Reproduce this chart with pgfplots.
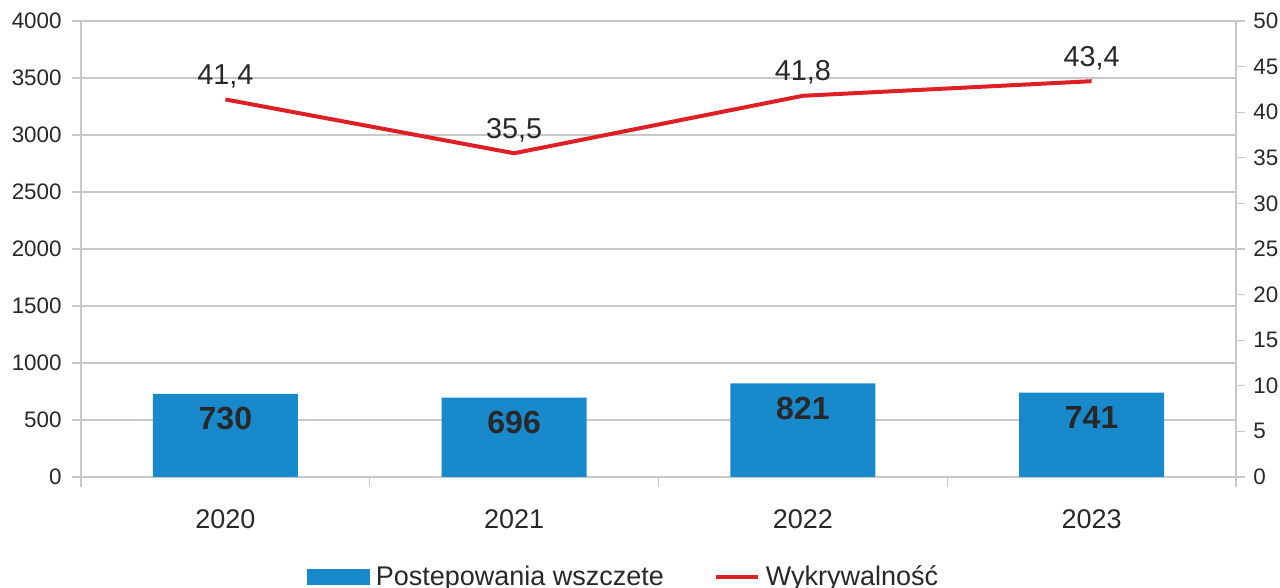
\documentclass[border=0pt]{standalone}
\usepackage{pgfplots}
\pgfplotsset{compat=1.18}
\usepackage{fontspec}
\setmainfont{Liberation Sans}
\definecolor{barblue}{RGB}{24,138,204}
\definecolor{linered}{RGB}{222,32,38}
\definecolor{gridgray}{RGB}{200,200,200}
\definecolor{txt}{RGB}{40,40,40}
\begin{document}
\begin{tikzpicture}
\pgfplotsset{
 common/.style={
  scale only axis, width=577.5pt, height=228pt,
  xmin=-0.5, xmax=3.5,
  /pgf/number format/assume math mode=true,
  /pgf/number format/1000 sep={},
  tick style={gridgray, line width=0.6pt},
  axis line style={gridgray, line width=0.6pt},
  major tick length=4.5pt,
  minor tick length=5pt,
  tick align=outside,
  yticklabel style={font=\fontsize{11.2}{12}\selectfont, color=txt, inner sep=0pt},
 }
}
\begin{axis}[common,
  ymin=0, ymax=4000, ytick={0,500,...,4000},
  axis y line*=left, axis x line*=bottom,
  ymajorgrids, grid style={gridgray, line width=0.6pt},
  xtick={0,1,2,3}, xticklabels={2020,2021,2022,2023},
  major x tick style={draw=none},
  minor xtick={-0.5,0.5,1.5,2.5,3.5},
  xticklabel style={font=\fontsize{13.5}{14}\selectfont, color=txt, inner sep=0pt, anchor=north, yshift=-11.5pt},
  yticklabel style={xshift=-5pt},
]
\addplot[ybar, bar width=72.5pt, fill=barblue, draw=none,
  nodes near coords,
  nodes near coords style={font=\fontsize{16}{16}\selectfont\bfseries, color=txt, anchor=center, yshift=-12.5pt}]
  coordinates {(0,730) (1,696) (2,821) (3,741)};
\end{axis}
\begin{axis}[common,
  ymin=0, ymax=50, ytick={0,5,...,50},
  axis y line*=right, axis x line=none,
  yticklabel style={anchor=west, xshift=4pt},
  legend columns=2,
  legend style={at={(0.4715,-0.219)}, anchor=center, draw=none, fill=none,
    font=\fontsize{13.5}{14}\selectfont, text=txt,
    /tikz/every even column/.append style={column sep=22pt},
    nodes={inner sep=3pt}},
]
\addlegendimage{legend image code/.code={\fill[barblue] (0pt,-3.75pt) rectangle (31pt,3.75pt);}}
\addlegendentry{Postepowania wszczete}
\addplot[linered, line width=2pt, mark=none,
  legend image code/.code={\draw[linered, line width=2pt] (0pt,0pt) -- (21pt,0pt);},
  nodes near coords={\pgfmathprintnumber[fixed, fixed zerofill, precision=1, use comma]{\pgfplotspointmeta}},
  nodes near coords style={font=\fontsize{14.4}{15}\selectfont, color=txt, anchor=center, yshift=11.5pt}]
  coordinates {(0,41.4) (1,35.5) (2,41.8) (3,43.4)};
\addlegendentry{Wykrywalność}
\end{axis}
\pgfresetboundingbox
\path ([shift={(-40.5pt,-55.5pt)}]current axis.south west) rectangle ([shift={(22pt,10.5pt)}]current axis.north east);
\end{tikzpicture}
\end{document}
